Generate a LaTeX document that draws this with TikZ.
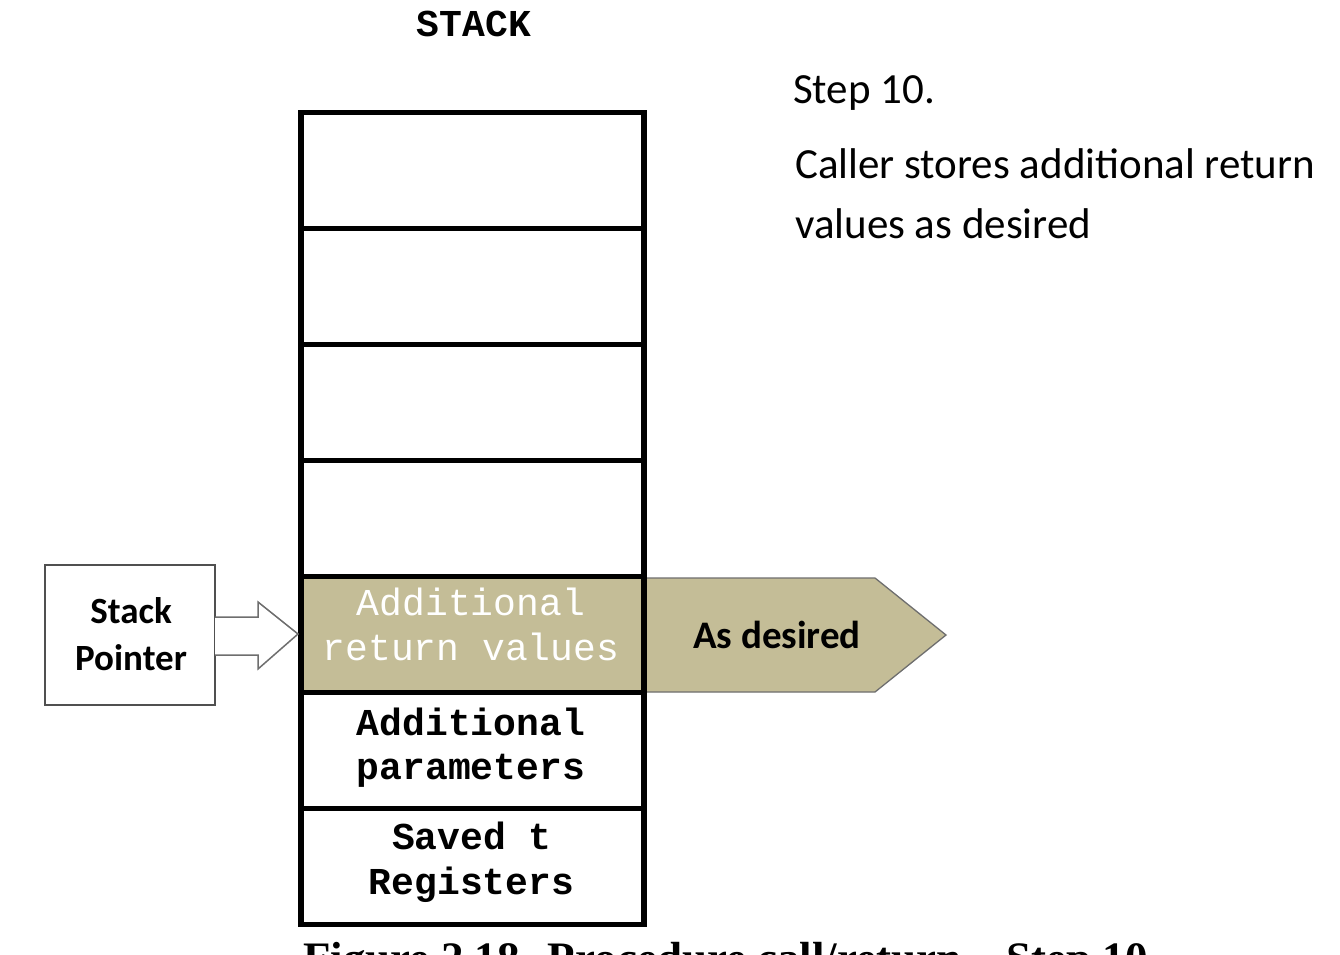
\documentclass[tikz,border=0pt]{standalone}
\usepackage{fontspec}
\setmainfont{Carlito}
\newfontfamily\monof{Liberation Mono}
\newfontfamily\capf{Liberation Serif}
\definecolor{khaki}{RGB}{196,189,151}
\definecolor{sgray}{RGB}{80,80,80}
\definecolor{agray}{RGB}{110,110,110}
\begin{document}
\begin{tikzpicture}[x=1pt,y=-1pt,
  cell/.style={draw=black,line width=5.5pt,minimum width=343pt,minimum height=116pt,inner sep=0pt,outer sep=0pt,anchor=north west},
  celltext/.style={font=\monof\bfseries\fontsize{38}{44}\selectfont,anchor=base,inner sep=0pt},
  whitetext/.style={font=\monof\fontsize{38}{44}\selectfont,text=white,anchor=base,inner sep=0pt},
  bodytext/.style={font=\fontsize{43}{60}\selectfont,anchor=base west,inner sep=0pt}]
\useasboundingbox[clip] (0,0) rectangle (1340,954);
\fill[white] (0,0) rectangle (1340,954);
% title
\node[font=\monof\bfseries\fontsize{38}{44}\selectfont,anchor=base,inner sep=0pt] (title) at (474,36) {STACK};
% as desired arrow (behind the stack)
\draw[fill=khaki,draw=agray,line width=1.3pt] (640,578) -- (875,578) -- (946,635) -- (875,692) -- (640,692);
\node[font=\bfseries\fontsize{39}{44}\selectfont,anchor=base,inner sep=0pt] (des) at (777,648) {As desired};
% stack cells
\node[cell] (c1) at (301,112.5) {};
\node[cell] (c2) at (301,228.5) {};
\node[cell] (c3) at (301,344.5) {};
\node[cell] (c4) at (301,460.5) {};
\node[cell,fill=khaki] (c5) at (301,576.5) {};
\node[cell] (c6) at (301,692.5) {};
\node[cell] (c7) at (301,808.5) {};
\node[whitetext] (t5a) at (471,615) {Additional};
\node[whitetext] (t5b) at (471,660) {return values};
\node[celltext] (t6a) at (471,735) {Additional};
\node[celltext] (t6b) at (471,779) {parameters};
\node[celltext] (t7a) at (472,849) {Saved t};
\node[celltext] (t7b) at (471.5,894) {Registers};
% stack pointer
\node[draw=sgray,line width=2pt,minimum width=170pt,minimum height=140pt,inner sep=0pt,outer sep=0pt] (sp) at (130,635) {};
\node[font=\bfseries\fontsize{37}{44}\selectfont,anchor=base,inner sep=0pt] (spa) at (131,623) {Stack};
\node[font=\bfseries\fontsize{37}{44}\selectfont,anchor=base,inner sep=0pt] (spb) at (131,670) {Pointer};
\coordinate (tip) at (298,634);
\draw[draw=agray,line width=1.5pt,fill=white] (sp.east |- 0,617) -- (258,617) -- (258,602) -- (tip) -- (258,669) -- (258,655) -- (sp.east |- 0,655);
% right text
\node[bodytext] (step) at (793,103) {Step 10.};
\node[bodytext] (desc1) at (795,178) {Caller stores additional return};
\node[bodytext] (desc2) at (795,238) {values as desired};
% caption (cut off at the bottom edge, as in the reference)
\node[font=\capf\bfseries\fontsize{45}{50}\selectfont,anchor=base west,inner sep=0pt] (cap) at (303,973) {Figure 2.18\hspace{28pt}Procedure call/return – Step 10};
\end{tikzpicture}
\end{document}
